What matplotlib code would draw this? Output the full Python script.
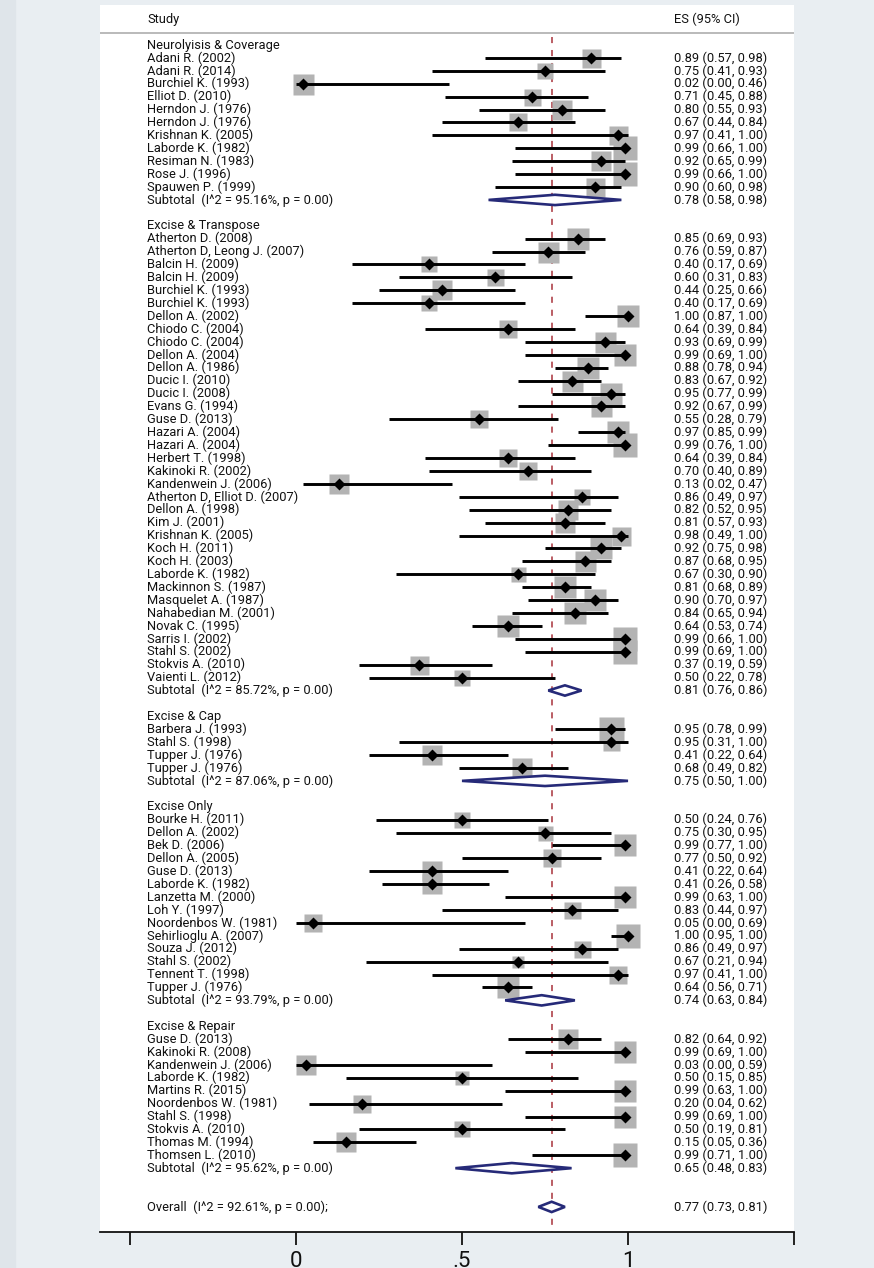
import matplotlib
matplotlib.use("Agg")
import matplotlib.pyplot as plt
from matplotlib.patches import Polygon, Rectangle

plt.rcParams['font.family'] = ['Roboto', 'DejaVu Sans']

# ---------------- data ----------------
group_names = ["Neurolyisis & Coverage", "Excise & Transpose", "Excise & Cap",
               "Excise Only", "Excise & Repair"]

studies1 = ["Adani R. (2002)", "Adani R. (2014)", "Burchiel K. (1993)", "Elliot D. (2010)",
            "Herndon J. (1976)", "Herndon J. (1976)", "Krishnan K. (2005)", "Laborde K. (1982)",
            "Resiman N. (1983)", "Rose J. (1996)", "Spauwen P. (1999)"]
es1 = [0.89, 0.75, 0.02, 0.71, 0.80, 0.67, 0.97, 0.99, 0.92, 0.99, 0.90]
lo1 = [0.57, 0.41, 0.00, 0.45, 0.55, 0.44, 0.41, 0.66, 0.65, 0.66, 0.60]
hi1 = [0.98, 0.93, 0.46, 0.88, 0.93, 0.84, 1.00, 1.00, 0.99, 1.00, 0.98]
wt1 = [19, 16, 21, 17, 20, 18, 19, 24, 20, 24, 19]

studies2 = ["Atherton D. (2008)", "Atherton D, Leong J. (2007)", "Balcin H. (2009)", "Balcin H. (2009)",
            "Burchiel K. (1993)", "Burchiel K. (1993)", "Dellon A. (2002)", "Chiodo C. (2004)",
            "Chiodo C. (2004)", "Dellon A. (2004)", "Dellon A. (1986)", "Ducic I. (2010)",
            "Ducic I. (2008)", "Evans G. (1994)", "Guse D. (2013)", "Hazari A. (2004)",
            "Hazari A. (2004)", "Herbert T. (1998)", "Kakinoki R. (2002)", "Kandenwein J. (2006)",
            "Atherton D, Elliot D. (2007)", "Dellon A. (1998)", "Kim J. (2001)", "Krishnan K. (2005)",
            "Koch H. (2011)", "Koch H. (2003)", "Laborde K. (1982)", "Mackinnon S. (1987)",
            "Masquelet A. (1987)", "Nahabedian M. (2001)", "Novak C. (1995)", "Sarris I. (2002)",
            "Stahl S. (2002)", "Stokvis A. (2010)", "Vaienti L. (2012)"]
es2 = [0.85, 0.76, 0.40, 0.60, 0.44, 0.40, 1.00, 0.64, 0.93, 0.99, 0.88, 0.83, 0.95, 0.92, 0.55,
       0.97, 0.99, 0.64, 0.70, 0.13, 0.86, 0.82, 0.81, 0.98, 0.92, 0.87, 0.67, 0.81, 0.90, 0.84,
       0.64, 0.99, 0.99, 0.37, 0.50]
lo2 = [0.69, 0.59, 0.17, 0.31, 0.25, 0.17, 0.87, 0.39, 0.69, 0.69, 0.78, 0.67, 0.77, 0.67, 0.28,
       0.85, 0.76, 0.39, 0.40, 0.02, 0.49, 0.52, 0.57, 0.49, 0.75, 0.68, 0.30, 0.68, 0.70, 0.65,
       0.53, 0.66, 0.69, 0.19, 0.22]
hi2 = [0.93, 0.87, 0.69, 0.83, 0.66, 0.69, 1.00, 0.84, 0.99, 1.00, 0.94, 0.92, 0.99, 0.99, 0.79,
       0.99, 1.00, 0.84, 0.89, 0.47, 0.97, 0.95, 0.93, 1.00, 0.98, 0.95, 0.90, 0.89, 0.97, 0.94,
       0.74, 1.00, 1.00, 0.59, 0.78]
wt2 = [23, 21, 16, 17, 20, 16, 23, 18, 21, 23, 22, 21, 22, 21, 18, 23, 24, 18, 18, 20, 16, 20,
       20, 19, 22, 21, 15, 22, 22, 22, 22, 24, 24, 19, 16]

studies3 = ["Barbera J. (1993)", "Stahl S. (1998)", "Tupper J. (1976)", "Tupper J. (1976)"]
es3 = [0.95, 0.95, 0.41, 0.68]
lo3 = [0.78, 0.31, 0.22, 0.49]
hi3 = [0.99, 1.00, 0.64, 0.82]
wt3 = [25, 17, 20, 20]

studies4 = ["Bourke H. (2011)", "Dellon A. (2002)", "Bek D. (2006)", "Dellon A. (2005)",
            "Guse D. (2013)", "Laborde K. (1982)", "Lanzetta M. (2000)", "Loh Y. (1997)",
            "Noordenbos W. (1981)", "Sehirlioglu A. (2007)", "Souza J. (2012)", "Stahl S. (2002)",
            "Tennent T. (1998)", "Tupper J. (1976)"]
es4 = [0.50, 0.75, 0.99, 0.77, 0.41, 0.41, 0.99, 0.83, 0.05, 1.00, 0.86, 0.67, 0.97, 0.64]
lo4 = [0.24, 0.30, 0.77, 0.50, 0.22, 0.26, 0.63, 0.44, 0.00, 0.95, 0.49, 0.21, 0.41, 0.56]
hi4 = [0.76, 0.95, 1.00, 0.92, 0.64, 0.58, 1.00, 0.97, 0.69, 1.00, 0.97, 0.94, 1.00, 0.71]
wt4 = [16, 15, 23, 18, 20, 20, 23, 17, 18, 24, 17, 12, 18, 23]

studies5 = ["Guse D. (2013)", "Kakinoki R. (2008)", "Kandenwein J. (2006)", "Laborde K. (1982)",
            "Martins R. (2015)", "Noordenbos W. (1981)", "Stahl S. (1998)", "Stokvis A. (2010)",
            "Thomas M. (1994)", "Thomsen L. (2010)"]
es5 = [0.82, 0.99, 0.03, 0.50, 0.99, 0.20, 0.99, 0.50, 0.15, 0.99]
lo5 = [0.64, 0.69, 0.00, 0.15, 0.63, 0.04, 0.69, 0.19, 0.05, 0.71]
hi5 = [0.92, 1.00, 0.59, 0.85, 1.00, 0.62, 1.00, 0.81, 0.36, 1.00]
wt5 = [20, 23, 20, 14, 23, 18, 23, 16, 20, 24]

sub_es = [0.78, 0.81, 0.75, 0.74, 0.65]
sub_lo = [0.58, 0.76, 0.50, 0.63, 0.48]
sub_hi = [0.98, 0.86, 1.00, 0.84, 0.83]
sub_i2 = [95.16, 85.72, 87.06, 93.79, 95.62]
sub_p = [0.00, 0.00, 0.00, 0.00, 0.00]

overall_es, overall_lo, overall_hi = 0.77, 0.73, 0.81
overall_i2, overall_p = 92.61, 0.00

tick_vals = [-0.5, 0, 0.5, 1, 1.5]
tick_labels = ["", "0", ".5", "1", ""]

groups = [
    (studies1, es1, lo1, hi1, wt1),
    (studies2, es2, lo2, hi2, wt2),
    (studies3, es3, lo3, hi3, wt3),
    (studies4, es4, lo4, hi4, wt4),
    (studies5, es5, lo5, hi5, wt5),
]

# ---------------- layout ----------------
W, H = 874, 1268
X0PX, XSCALE = 296.0, 332.0          # pixel of x=0, pixels per unit
ROW0PX, ROWPX = 45.0, 12.91          # pixel of first row, pixels per row
AX_L, AX_R, AX_T, AX_B = 100, 794, 5, 1232

fig = plt.figure(figsize=(W / 100, H / 100), dpi=100, facecolor='#e9eef2')
fig.patches.append(Rectangle((0, 0), 15 / W, 1, transform=fig.transFigure,
                             color='#dfe5ea', zorder=0))
ax = fig.add_axes([AX_L / W, 1 - AX_B / H, (AX_R - AX_L) / W, (AX_B - AX_T) / H])
ax.set_facecolor('white')
ax.set_xlim((AX_L - X0PX) / XSCALE, (AX_R - X0PX) / XSCALE)
ax.set_ylim((AX_B - ROW0PX) / ROWPX, (AX_T - ROW0PX) / ROWPX)

for s in ['top', 'left', 'right']:
    ax.spines[s].set_visible(False)
ax.spines['bottom'].set_linewidth(1.3)
ax.spines['bottom'].set_color('#111111')
ax.set_yticks([])
ax.set_xticks(tick_vals)
ax.set_xticklabels(tick_labels)
ax.tick_params(axis='x', direction='out', length=9, width=1.3, color='#111111',
               labelsize=16, pad=5, labelcolor='#111111')

px2pt = 72.0 / 100.0
x_text_left = (147 - X0PX) / XSCALE
x_text_es = (674 - X0PX) / XSCALE
FS = 9.3
TXT = '#111111'
NAVY = '#262a78'

# header
hdr_row = (19 - ROW0PX) / ROWPX
ax.text(x_text_left, hdr_row, "Study", fontsize=FS, va='center', ha='left', color=TXT)
ax.text(x_text_es, hdr_row, "ES (95% CI)", fontsize=FS, va='center', ha='left', color=TXT)
sep_row = (33 - ROW0PX) / ROWPX
ax.plot(ax.get_xlim(), [sep_row, sep_row], color='#b4b4b4', lw=1.3, solid_capstyle='butt',
        clip_on=False)


def diamond(center, lo, hi, row, half_h=0.40):
    poly = Polygon([(lo, row), (center, row - half_h), (hi, row), (center, row + half_h)],
                   closed=True, facecolor='white', edgecolor=NAVY, lw=1.9, zorder=4,
                   joinstyle='miter')
    ax.add_patch(poly)


row = 0
for gi, (names, es, lo, hi, wt) in enumerate(groups):
    ax.text(x_text_left, row, group_names[gi], fontsize=FS, va='center', ha='left', color=TXT)
    row += 1
    for name, e, l, h, w in zip(names, es, lo, hi, wt):
        ax.plot([e], [row], marker='s', ms=w * px2pt, color='#b3b3b3', mec='none', zorder=1)
        ax.plot([l, h], [row, row], color='black', lw=2.1, solid_capstyle='butt', zorder=2)
        ax.plot([e], [row], marker='D', ms=6.2, color='black', mec='none', zorder=3)
        ax.text(x_text_left, row, name, fontsize=FS, va='center', ha='left', color=TXT)
        ax.text(x_text_es, row, f"{e:.2f} ({l:.2f}, {h:.2f})", fontsize=FS, va='center',
                ha='left', color=TXT)
        row += 1
    diamond(sub_es[gi], sub_lo[gi], sub_hi[gi], row)
    ax.text(x_text_left, row, f"Subtotal  (I^2 = {sub_i2[gi]:.2f}%, p = {sub_p[gi]:.2f})",
            fontsize=FS, va='center', ha='left', color=TXT)
    ax.text(x_text_es, row, f"{sub_es[gi]:.2f} ({sub_lo[gi]:.2f}, {sub_hi[gi]:.2f})",
            fontsize=FS, va='center', ha='left', color=TXT)
    row += 2

row += 1
diamond(overall_es, overall_lo, overall_hi, row)
ax.text(x_text_left, row, f"Overall  (I^2 = {overall_i2:.2f}%, p = {overall_p:.2f});",
        fontsize=FS, va='center', ha='left', color=TXT)
ax.text(x_text_es, row, f"{overall_es:.2f} ({overall_lo:.2f}, {overall_hi:.2f})",
        fontsize=FS, va='center', ha='left', color=TXT)

# overall reference line
ax.plot([overall_es, overall_es], [-0.6, ax.get_ylim()[0]], color='#a8323a', lw=1.1,
        dashes=(4.0, 4.5), zorder=0.5)

fig.savefig("out.png", dpi=100, facecolor=fig.get_facecolor())
